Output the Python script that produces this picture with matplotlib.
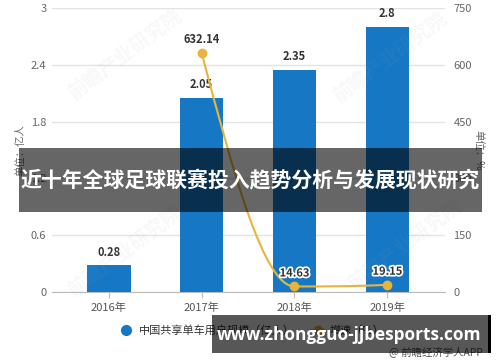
import numpy as np
import matplotlib
matplotlib.use('Agg')
import matplotlib.pyplot as plt
from matplotlib.path import Path
from matplotlib.patches import PathPatch, Rectangle
from matplotlib.lines import Line2D
import matplotlib.patheffects as pe

plt.rcParams['font.family'] = ['Noto Sans CJK SC', 'DejaVu Sans']

# ---------------- data ----------------
years = ['2016年', '2017年', '2018年', '2019年']
users = [0.28, 2.05, 2.35, 2.8]              # 中国共享单车用户规模（亿人）
growth = [np.nan, 632.14, 14.63, 19.15]      # 增速（%）
left_ticks = [0, 0.6, 1.2, 1.8, 2.4, 3]
left_tick_labels = ['0', '0.6', '1.2', '1.8', '2.4', '3']
right_ticks = [0, 150, 300, 450, 600, 750]
right_tick_labels = ['0', '150', '300', '450', '600', '750']
bar_label = '中国共享单车用户规模（亿人）'
line_label = '增速（%）'
left_axis_title = '单位：亿人'
right_axis_title = '单位：%'
banner_title = '近十年全球足球联赛投入趋势分析与发展现状研究'
site_text = 'www.zhongguo-jjbesports.com'
source_text = '@ 前瞻经济学人APP'
watermark = '前瞻产业研究院'

BLUE = '#1677c4'
GOLD = '#e8b43a'
W, H = 500, 362

fig = plt.figure(figsize=(5, 3.62), dpi=100)
fig.patch.set_facecolor('white')

def fx(px):
    return px / W

def fy(py):
    return 1 - py / H

ax = fig.add_axes([fx(52), fy(292), fx(445) - fx(52), fy(8) - fy(292)])
ax2 = ax.twinx()

x = np.arange(len(years))
ax.bar(x, users, width=0.47, color=BLUE, zorder=3)
for xi, v in zip(x, users):
    ax.annotate(f'{v:g}', (xi, v), xytext=(0, 5), textcoords='offset points',
                ha='center', va='bottom', fontsize=8, fontweight='bold', color='#333333', zorder=4)

ax.set_xlim(-0.61, 3.62)
ax.set_ylim(0, 3)
ax.set_yticks(left_ticks)
ax.set_yticklabels(left_tick_labels)
ax.set_xticks(x)
ax.set_xticklabels(years)
ax.grid(axis='y', color='#e3e3e3', lw=1, zorder=0)
ax.set_axisbelow(True)
for s in ['top', 'left', 'right']:
    ax.spines[s].set_visible(False)
ax.spines['bottom'].set_color('#bbbbbb')
ax.tick_params(axis='y', length=0, pad=4, labelsize=8, labelcolor='#666666')
ax.tick_params(axis='x', length=4, color='#bbbbbb', pad=4, labelsize=8, labelcolor='#555555')

ax2.set_ylim(0, 750)
ax2.set_yticks(right_ticks)
ax2.set_yticklabels(right_tick_labels)
for s in ['top', 'left', 'right', 'bottom']:
    ax2.spines[s].set_visible(False)
ax2.tick_params(axis='y', length=0, pad=6, labelsize=8, labelcolor='#666666')

# smooth monotone (pchip-style) line through the data points
gx = np.array([xi for xi, g in zip(x, growth) if not np.isnan(g)], dtype=float)
gy = np.array([g for g in growth if not np.isnan(g)], dtype=float)
h = np.diff(gx)
d = np.diff(gy) / h
n = len(gx)
m = np.zeros(n)
for k in range(1, n - 1):
    if d[k - 1] * d[k] <= 0:
        m[k] = 0
    else:
        w1 = 2 * h[k] + h[k - 1]
        w2 = h[k] + 2 * h[k - 1]
        m[k] = (w1 + w2) / (w1 / d[k - 1] + w2 / d[k])

def end_slope(h0, h1, d0, d1):
    s = ((2 * h0 + h1) * d0 - h0 * d1) / (h0 + h1)
    if np.sign(s) != np.sign(d0):
        s = 0
    elif np.sign(d0) != np.sign(d1) and abs(s) > abs(3 * d0):
        s = 3 * d0
    return s

m[0] = end_slope(h[0], h[1], d[0], d[1])
m[-1] = end_slope(h[-1], h[-2], d[-1], d[-2])
verts = [(gx[0], gy[0])]
codes = [Path.MOVETO]
for k in range(n - 1):
    verts += [(gx[k] + h[k] / 3, gy[k] + m[k] * h[k] / 3),
              (gx[k + 1] - h[k] / 3, gy[k + 1] - m[k + 1] * h[k] / 3),
              (gx[k + 1], gy[k + 1])]
    codes += [Path.CURVE4] * 3
ax2.add_patch(PathPatch(Path(verts, codes), fill=False, edgecolor=GOLD, lw=1.5, zorder=5))
ax2.plot(gx, gy, 'o', color=GOLD, ms=6, zorder=6)
for xi, v in zip(gx, gy):
    t = ax2.annotate(f'{v:.2f}', (xi, v), xytext=(0, 5), textcoords='offset points',
                     ha='center', va='bottom', fontsize=8, fontweight='bold', color='#333333', zorder=7)
    if v < 100:
        t.set_path_effects([pe.withStroke(linewidth=2.5, foreground='white')])

# axis titles
fig.text(fx(20), fy(150), left_axis_title, rotation=90, ha='center', va='center',
         fontsize=7.5, color='#666666')
fig.text(fx(478), fy(150), right_axis_title, rotation=-90, ha='center', va='center',
         fontsize=7.5, color='#666666')

# faint watermarks
for (cx, cy) in [(125, 55), (390, 58), (125, 252), (405, 245)]:
    fig.text(fx(cx), fy(cy), watermark, rotation=37, ha='center', va='center', fontsize=14,
             fontweight='bold', color='#9aa5b0', alpha=0.08, zorder=8)

# legend
handles = [Line2D([], [], marker='o', color=BLUE, linestyle='none', ms=7),
           Line2D([], [], marker='o', color=GOLD, lw=1.5, ms=6)]
fig.legend(handles, [bar_label, line_label], loc='center', bbox_to_anchor=(fx(252), fy(330)),
           ncol=2, frameon=False, fontsize=8, labelcolor='#333333', handlelength=1.2,
           handletextpad=0.5, columnspacing=1.5)

# overlay banner
fig.add_artist(Rectangle((fx(19), fy(212)), fx(482) - fx(19), fy(148) - fy(212),
                         transform=fig.transFigure, facecolor='black', alpha=0.6,
                         edgecolor='none', zorder=10))
fig.text(fx(250), fy(181), banner_title, ha='center', va='center', fontsize=15,
         fontweight='bold', color='white', zorder=11)

# bottom site banner
fig.add_artist(Rectangle((fx(212), fy(353)), fx(490) - fx(212), fy(315) - fy(353),
                         transform=fig.transFigure, facecolor='black', alpha=0.66,
                         edgecolor='none', zorder=10))
fig.add_artist(Rectangle((fx(488), fy(353)), fx(491) - fx(488), fy(315) - fy(353),
                         transform=fig.transFigure, facecolor='black',
                         edgecolor='none', zorder=11))
st = fig.text(fx(217), fy(335), site_text, ha='left', va='center', fontsize=13,
              fontweight='bold', color='white', family=['Open Sans', 'DejaVu Sans'], zorder=12)
fig.canvas.draw()
bb = st.get_window_extent()
st.set_fontsize(13 * 263 / bb.width)

fig.text(fx(483), fy(352), source_text, ha='right', va='center', fontsize=7.5,
         color='#555555', zorder=9)

fig.savefig('out.png', dpi=100)
